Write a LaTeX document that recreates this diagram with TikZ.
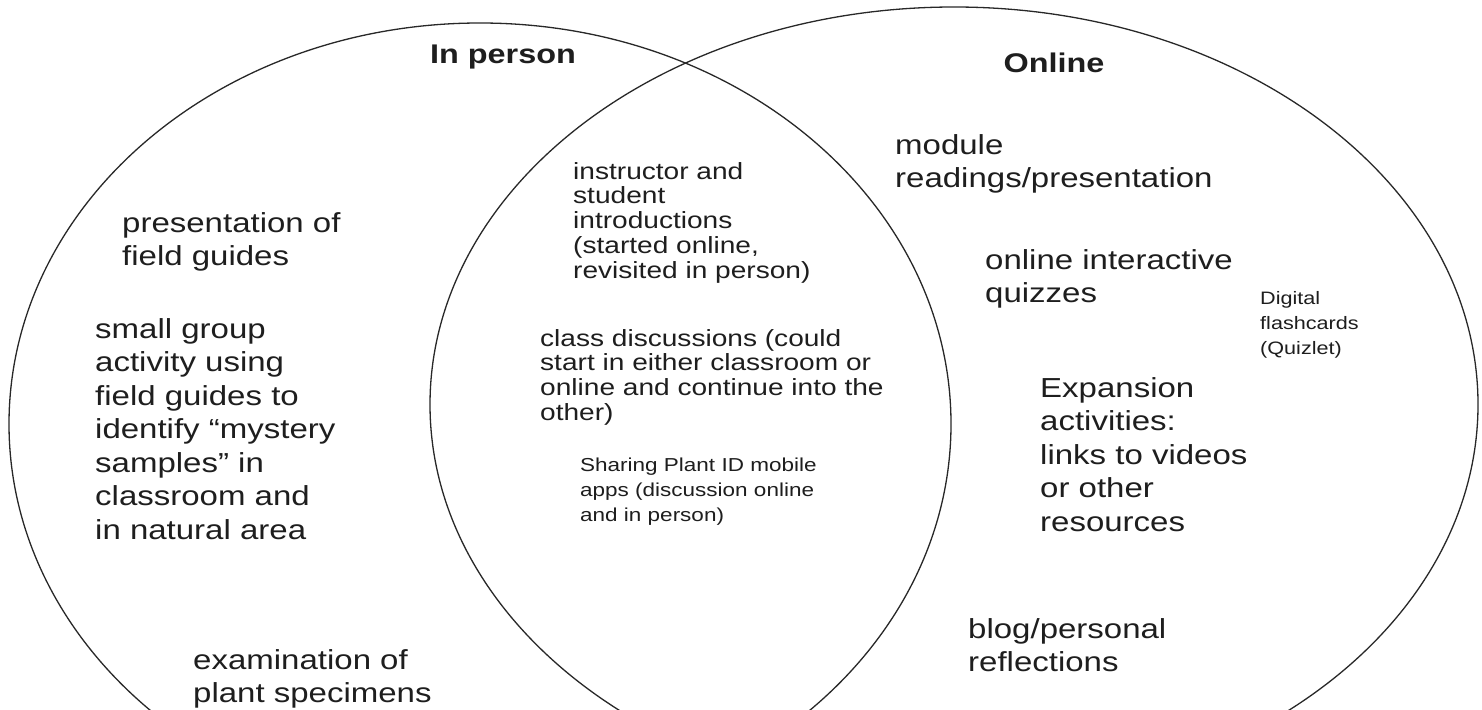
\documentclass[tikz,border=0pt]{standalone}
\usepackage{fontspec}
\setmainfont[FakeStretch=1.2]{Liberation Sans}
\definecolor{ink}{RGB}{30,30,30}
\definecolor{rim}{RGB}{40,40,40}

\begin{document}
\begin{tikzpicture}[x=1pt, y=-1pt,
    set/.style={draw=rim, line width=1.3pt},
    head/.style={font=\fontsize{27}{30}\selectfont\bfseries, text=ink, inner sep=0pt},
    bigtxt/.style={font=\fontsize{27.5}{33.5}\selectfont, text=ink, align=left, anchor=north west, inner sep=0pt},
    midtxt/.style={font=\fontsize{23.4}{24.8}\selectfont, text=ink, align=left, anchor=north west, inner sep=0pt},
    tinytxt/.style={font=\fontsize{18.75}{25}\selectfont, text=ink, align=left, anchor=north west, inner sep=0pt},
    cardtxt/.style={font=\fontsize{18}{25}\selectfont, text=ink, align=left, anchor=north west, inner sep=0pt}]
    \useasboundingbox[fill=white] (0, 0) rectangle (1482, 709);
    \clip (0, 0) rectangle (1482, 709);

    % The two sets
    \draw [set] (480, 424) ellipse [x radius=471, y radius=401];
    \draw [set] (954, 404.5) ellipse [x radius=524, y radius=397.5];

    % Headings
    \node [head] (inperson) at (503, 57) {In person};
    \node [head] (online) at (1054, 63) {Online};

    % In person only
    \node [bigtxt] (guides) at (122, 212) {presentation of\\field guides};
    \node [bigtxt] (mystery) at (95, 318) {small group\\activity using\\field guides to\\identify “mystery\\samples” in\\classroom and\\in natural area};
    \node [bigtxt] (specimens) at (193, 649) {examination of\\plant specimens};

    % Both
    \node [midtxt] (intro) at (573, 162) {instructor and\\student\\introductions\\(started online,\\revisited in person)};
    \node [midtxt] (discuss) at (540, 329) {class discussions (could\\start in either classroom or\\online and continue into the\\other)};
    \node [tinytxt] (apps) at (580, 458) {Sharing Plant ID mobile\\apps (discussion online\\and in person)};

    % Online only
    \node [bigtxt] (readings) at (895, 134) {module\\readings/presentation};
    \node [bigtxt] (quizzes) at (985, 249) {online interactive\\quizzes};
    \node [cardtxt] (flashcards) at (1260, 291) {Digital\\flashcards\\(Quizlet)};
    \node [bigtxt] (expansion) at (1040, 377) {Expansion\\activities:\\links to videos\\or other\\resources};
    \node [bigtxt] (blog) at (968, 618) {blog/personal\\reflections};
\end{tikzpicture}
\end{document}
